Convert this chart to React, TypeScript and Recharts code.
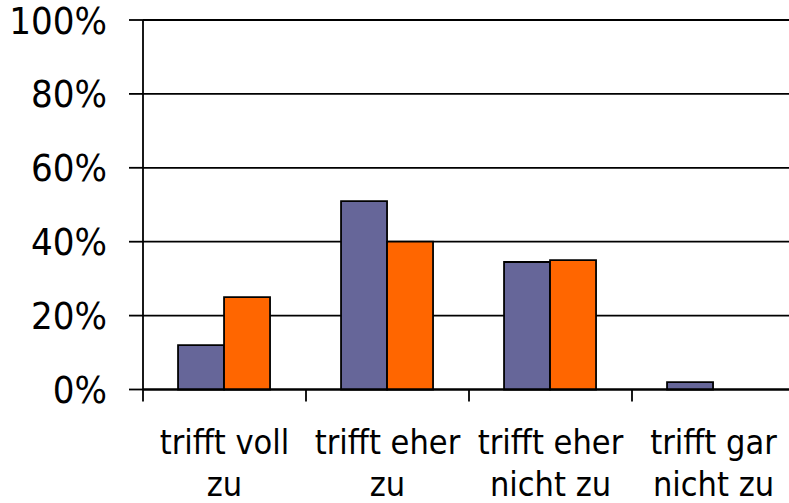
import React from "react";
import { BarChart, Bar, XAxis, YAxis, CartesianGrid } from "recharts";

const categories = [
  ["trifft voll", "zu"],
  ["trifft eher", "zu"],
  ["trifft eher", "nicht zu"],
  ["trifft gar", "nicht zu"],
];
const seriesA = [12, 51, 34.5, 2];
const seriesB = [25, 40, 35, 0];
const yTicks = [0, 20, 40, 60, 80, 100];

const data = categories.map((c, i) => ({
  name: c.join(" "),
  a: seriesA[i],
  b: seriesB[i],
}));

const FONT = "'DejaVu Sans Condensed', 'Liberation Sans', sans-serif";

const CHART_W = 800;
const CHART_H = 503;
const MARGIN = { top: 20, right: 5, left: 0, bottom: 0 };
const Y_W = 143;
const BAND = (CHART_W - MARGIN.left - MARGIN.right - Y_W) / categories.length;

// eslint-disable-next-line @typescript-eslint/no-explicit-any
const CatTick = (props: any) => {
  const { x, y, payload, index } = props;
  const half = payload && payload.offset ? payload.offset : BAND / 2;
  const lines = categories[index] || [];
  return (
    <g>
      <line x1={x - half} x2={x - half} y1={y} y2={y + 12} stroke="#000" strokeWidth={1.8} />
      <text x={x} y={y} textAnchor="middle" fontSize={34} fontFamily={FONT} fill="#000">
        {lines.map((l: string, i: number) => (
          <tspan key={i} x={x} dy={i === 0 ? 64 : 42}>
            {l}
          </tspan>
        ))}
      </text>
    </g>
  );
};

export default function App() {
  return (
    <div
      style={{
        position: "absolute",
        left: 0,
        top: 0,
        width: 789,
        height: 503,
        overflow: "hidden",
        background: "#fff",
      }}
    >
      <BarChart
        width={CHART_W}
        height={CHART_H}
        data={data}
        margin={MARGIN}
        barCategoryGap="21.5%"
        barGap={0}
      >
        <CartesianGrid
          horizontal
          vertical={false}
          stroke="#000"
          strokeWidth={1.8}
          xAxisId="cat"
        />
        <XAxis
          xAxisId="cat"
          dataKey="name"
          height={113.5}
          interval={0}
          tickLine={false}
          tickSize={0}
          tickMargin={0}
          axisLine={{ stroke: "#000", strokeWidth: 1.8 }}
          tick={<CatTick />}
        />
        <YAxis
          width={Y_W}
          domain={[0, 100]}
          ticks={yTicks}
          interval={0}
          tickSize={14}
          tickMargin={22}
          tickFormatter={(v) => `${v}%`}
          axisLine={{ stroke: "#000", strokeWidth: 1.8 }}
          tickLine={{ stroke: "#000", strokeWidth: 1.8 }}
          tick={{ fill: "#000", fontSize: 38, fontFamily: FONT }}
        />
        <Bar
          xAxisId="cat"
          dataKey="a"
          fill="#666699"
          stroke="#000"
          strokeWidth={1.8}
          isAnimationActive={false}
        />
        <Bar
          xAxisId="cat"
          dataKey="b"
          fill="#FF6600"
          stroke="#000"
          strokeWidth={1.8}
          isAnimationActive={false}
        />
      </BarChart>
    </div>
  );
}
